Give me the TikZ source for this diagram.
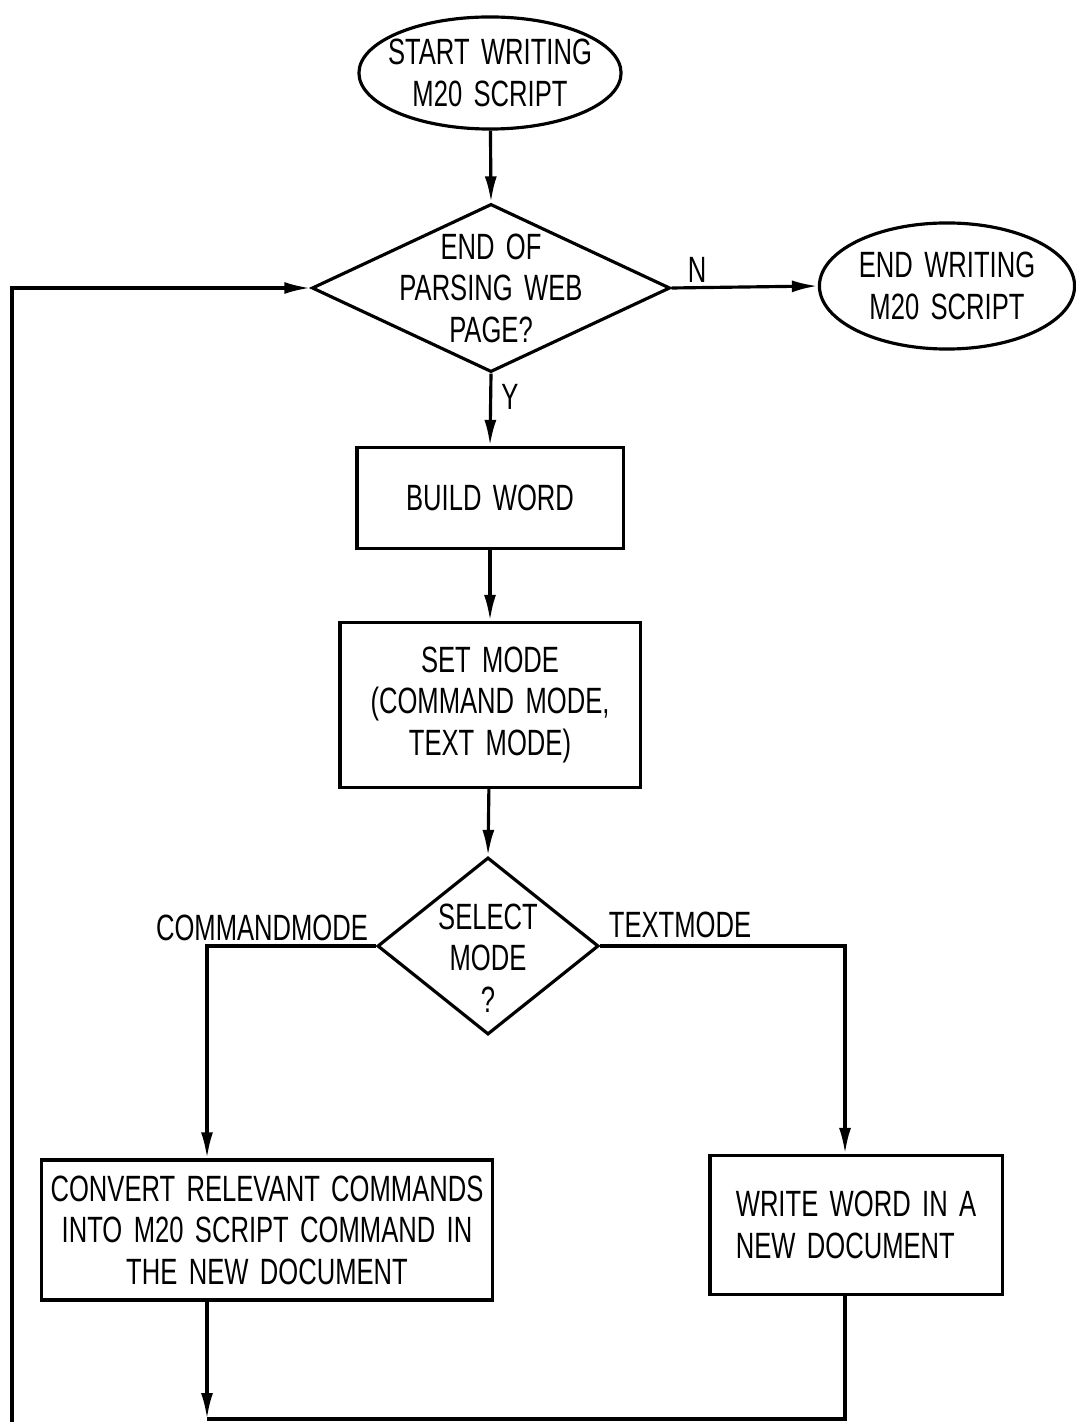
\documentclass[tikz,border=0pt]{standalone}
\usepackage{fontspec}
\setmainfont{Liberation Sans}[FakeStretch=0.7, WordSpace=1.6]
\usetikzlibrary{shapes.geometric, arrows.meta}
\begin{document}
\begin{tikzpicture}[x=0.01cm, y=-0.01cm,
        terminal/.style={ellipse, draw, line width=0.9pt, inner sep=0pt},
        process/.style={rectangle, draw, line width=0.9pt, inner sep=2pt},
        decision/.style={diamond, draw, line width=0.9pt, inner sep=0pt},
        flow/.style={line width=0.9pt, -{Latex[length=2.6mm, width=1.2mm]}},
        wire/.style={line width=0.9pt},
        every node/.style={font=\fontsize{10.4}{11.8}\selectfont}]
        \useasboundingbox (0,0) rectangle (1075,1422);
        % Terminals
        \node[terminal, minimum width=2.62cm, minimum height=1.12cm,
            label={[align=center]center:START WRITING\\M20 SCRIPT}] (start) at (490,73) {};
        \node[terminal, minimum width=2.55cm, minimum height=1.26cm,
            label={[align=center]center:END WRITING\\M20 SCRIPT}] (stop) at (947,286) {};
        
        % Decisions
        \node[decision, minimum width=3.58cm, minimum height=1.68cm,
            label={[align=center]center:END OF\\PARSING WEB\\PAGE?}] (parse) at (491,288) {};
        \node[decision, minimum width=2.21cm, minimum height=1.77cm,
            label={[align=center, yshift=-0.12cm]center:SELECT\\MODE\\?}] (select) at (488,946) {};
        
        % Boxes
        \node[process, minimum width=2.66cm, minimum height=1.01cm] (build) at (490,498) {BUILD WORD};
        \node[process, minimum width=3.0cm, minimum height=1.65cm, align=center] (setmode) at (490,705) {SET MODE\\(COMMAND MODE,\\TEXT MODE)};
        \node[process, minimum width=4.51cm, minimum height=1.40cm, align=center] (convert) at (267,1230) {CONVERT RELEVANT COMMANDS\\INTO M20 SCRIPT COMMAND IN\\THE NEW DOCUMENT};
        \node[process, minimum width=2.92cm, minimum height=1.39cm, align=left] (write) at (856,1225) {WRITE WORD IN A\\NEW DOCUMENT};
        
        % Turning points
        \coordinate (cmd) at (207,946);
        \coordinate (txt) at (845,946);
        \coordinate (join) at (207,1419);
        \coordinate (back) at (12,1422);
        
        % Edges
        \draw[flow] (start) -- (parse.north);
        \draw[flow] (parse.east) -- (stop.west);
        \draw[flow] (parse.south) -- (build.north);
        \draw[flow] (build) -- (setmode);
        \draw[flow] (setmode) -- (select.north);
        \draw[flow] (select.west) -- (cmd) -- (cmd |- convert.north);
        \draw[flow] (select.east) -- (txt) -- (txt |- write.north);
        \draw[flow] (cmd |- convert.south) -- (join);
        \draw[wire] (txt |- write.south) |- (join);
        \draw[flow] (back) |- (parse.west);
        
        % Branch labels
        \node (n) at (697,270) {N};
        \node (y) at (510,397) {Y};
        \node[anchor=south, inner sep=1pt] (cmdlabel) at (262,945) {COMMANDMODE};
        \node[anchor=south, inner sep=1pt] (txtlabel) at (680,942) {TEXTMODE};
    \end{tikzpicture}
\end{document}
